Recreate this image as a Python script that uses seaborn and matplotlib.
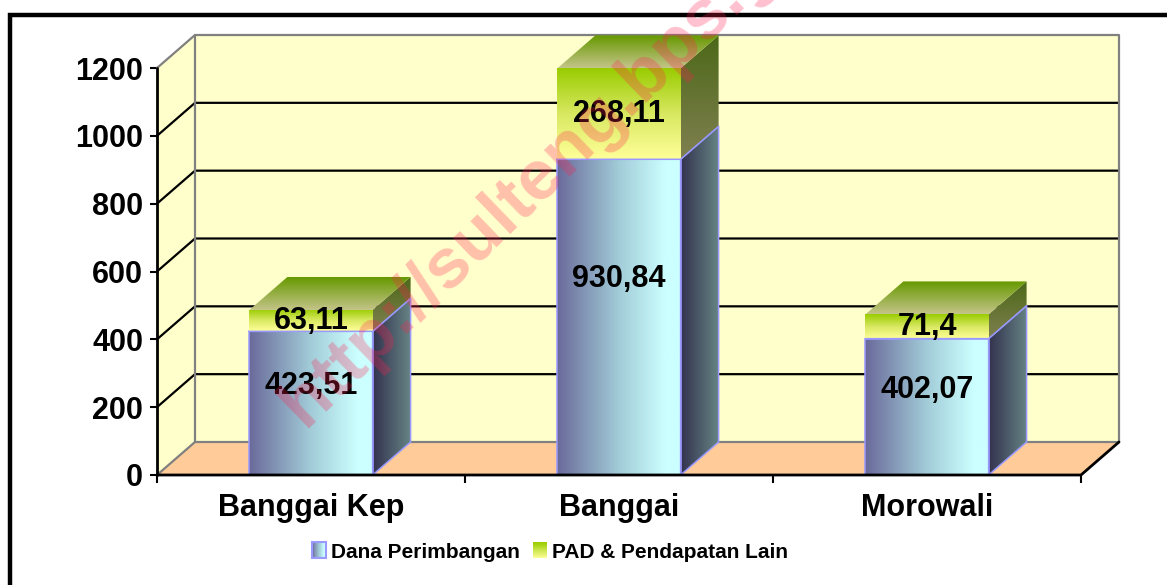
import numpy as np
import pandas as pd
import matplotlib
matplotlib.use("Agg")
import matplotlib.pyplot as plt
import seaborn as sns
from matplotlib.patches import Polygon, Rectangle
from matplotlib.colors import LinearSegmentedColormap
from matplotlib.legend_handler import HandlerBase
from matplotlib.lines import Line2D

# ---------------- data ----------------
categories = ["Banggai Kep", "Banggai", "Morowali"]
dana = [423.51, 930.84, 402.07]
pad = [63.11, 268.11, 71.4]
dana_labels = ["423,51", "930,84", "402,07"]
pad_labels = ["63,11", "268,11", "71,4"]
yticks = [0, 200, 400, 600, 800, 1000, 1200]
legend_labels = ["Dana Perimbangan", "PAD & Pendapatan Lain"]
watermark = "http://sulteng.bps.go.id"

df = pd.DataFrame({"Wilayah": categories, "Dana": dana, "PAD": pad})
df["Total"] = df["Dana"] + df["PAD"]

# ---------------- style ----------------
sns.set_theme(style="white")
plt.rcParams["font.family"] = ["Liberation Sans", "DejaVu Sans"]
plt.rcParams["font.weight"] = "bold"
plt.rcParams["text.color"] = "black"
plt.rcParams["xtick.color"] = "black"
plt.rcParams["ytick.color"] = "black"
plt.rcParams["axes.labelcolor"] = "black"

W, H, DPI = 1167, 585, 100
fig = plt.figure(figsize=(W / DPI, H / DPI), dpi=DPI)
fig.patch.set_facecolor("white")

YMAX = 1200
L_PX, R_PX, B_PX, T_PX = 157, 1081, 475, 68   # front plane
DX_PX, DY_PX = 38, 33                          # 3-D depth offset
pxc = (R_PX - L_PX) / 3.0
upx = (B_PX - T_PX) / YMAX
ddx = DX_PX / pxc
ddy = DY_PX / upx

ax = fig.add_axes([L_PX / W, (H - B_PX) / H, (3 + ddx) * pxc / W, (YMAX + ddy) * upx / H])
ax.set_facecolor("none")

WALL = "#FFFFCC"
FLOOR = "#FFCC99"
GREY = "#808080"
BAR_EDGE = "#9999FF"

x_lo, x_hi = -0.5, 2.5

# walls
ax.add_patch(Polygon([(x_lo + ddx, ddy), (x_hi + ddx, ddy), (x_hi + ddx, YMAX + ddy), (x_lo + ddx, YMAX + ddy)],
                     closed=True, facecolor=WALL, edgecolor="none", zorder=0.5))
ax.add_patch(Polygon([(x_lo, 0), (x_lo + ddx, ddy), (x_lo + ddx, YMAX + ddy), (x_lo, YMAX)],
                     closed=True, facecolor=WALL, edgecolor="none", zorder=0.5))
# floor
ax.add_patch(Polygon([(x_lo, 0), (x_hi, 0), (x_hi + ddx, ddy), (x_lo + ddx, ddy)],
                     closed=True, facecolor=FLOOR, edgecolor="none", zorder=0.6))

# gridlines
for v in yticks[1:-1]:
    ax.plot([x_lo, x_lo + ddx, x_hi + ddx], [v, v + ddy, v + ddy], color="black", lw=1.6,
            zorder=1, clip_on=False, solid_capstyle="butt")
# wall borders (grey)
ax.plot([x_lo, x_lo + ddx, x_hi + ddx, x_hi + ddx], [YMAX, YMAX + ddy, YMAX + ddy, ddy],
        color=GREY, lw=1.6, zorder=1.1, clip_on=False)
ax.plot([x_lo + ddx, x_lo + ddx], [ddy, YMAX + ddy], color=GREY, lw=1.6, zorder=1.1, clip_on=False)
ax.plot([x_lo, x_lo + ddx, x_hi + ddx], [0, ddy, ddy], color=GREY, lw=1.6, zorder=1.1, clip_on=False)
# floor front/right edges and front axis (black)
ax.plot([x_lo, x_hi, x_hi + ddx], [0, 0, ddy], color="black", lw=2, zorder=6, clip_on=False)
ax.plot([x_lo, x_lo], [0, YMAX], color="black", lw=2, zorder=6, clip_on=False)

# ---------------- bars via seaborn ----------------
sns.barplot(data=df, x="Wilayah", y="Total", ax=ax, width=0.4, color="#99CC00",
            errorbar=None, linewidth=0)
sns.barplot(data=df, x="Wilayah", y="Dana", ax=ax, width=0.4, color="#6A6A9A",
            errorbar=None, linewidth=0)
green_bars = ax.patches[3:6]
blue_bars = ax.patches[6:9]


def gradient(clip_xy, stops, vertical, z):
    clip = Polygon(clip_xy, closed=True, facecolor="none", edgecolor="none", transform=ax.transData)
    ax.add_patch(clip)
    xs = [p[0] for p in clip_xy]
    ys = [p[1] for p in clip_xy]
    cmap = LinearSegmentedColormap.from_list("g", stops)
    g = np.linspace(0, 1, 256)
    arr = g[:, None] if vertical else g[None, :]
    im = ax.imshow(arr, cmap=cmap, origin="lower", extent=[min(xs), max(xs), min(ys), max(ys)],
                   aspect="auto", interpolation="bilinear", zorder=z)
    im.set_clip_path(clip)
    return clip


BLUE_FRONT = [(0.0, "#6A6A9A"), (0.5, "#A2CCD8"), (0.88, "#CCFFFF"), (1.0, "#CCFFFF")]
BLUE_SIDE = ["#33334F", "#668484"]
GREEN_FRONT = ["#FFFF99", "#D8E860", "#99CC00"]
GREEN_SIDE = ["#808050", "#4C6818"]
GREEN_TOP = ["#C4C488", "#669900"]

for i, (gb, bb) in enumerate(zip(green_bars, blue_bars)):
    x0 = bb.get_x()
    x1 = x0 + bb.get_width()
    v = bb.get_height()
    t = gb.get_height()
    gb.set_facecolor("none")
    gb.set_edgecolor("none")
    bb.set_facecolor("none")
    # blue side
    side_b = [(x1, 0), (x1 + ddx, ddy), (x1 + ddx, v + ddy), (x1, v)]
    gradient(side_b, BLUE_SIDE, False, 2)
    ax.add_patch(Polygon(side_b, closed=True, facecolor="none", edgecolor=BAR_EDGE, lw=1.1, zorder=2.5))
    # blue front
    front_b = [(x0, 0), (x1, 0), (x1, v), (x0, v)]
    gradient(front_b, BLUE_FRONT, False, 2)
    ax.add_patch(Polygon(front_b, closed=True, facecolor="none", edgecolor=BAR_EDGE, lw=1.1, zorder=2.5))
    # green side
    side_g = [(x1, v), (x1 + ddx, v + ddy), (x1 + ddx, t + ddy), (x1, t)]
    gradient(side_g, GREEN_SIDE, True, 3)
    # green top
    top_g = [(x0, t), (x1, t), (x1 + ddx, t + ddy), (x0 + ddx, t + ddy)]
    gradient(top_g, GREEN_TOP, True, 3)
    # green front
    front_g = [(x0, v), (x1, v), (x1, t), (x0, t)]
    gradient(front_g, GREEN_FRONT, True, 3)
    ax.plot([x0, x1, x1 + ddx], [v, v, v + ddy], color=BAR_EDGE, lw=1.1, zorder=3.5)

    xc = x0 + (x1 - x0) / 2
    ax.text(xc, v * 0.62, dana_labels[i], ha="center", va="center", fontsize=22,
            fontweight="bold", color="black", zorder=7)
    ax.text(xc, v + (t - v) / 2, pad_labels[i], ha="center", va="center", fontsize=22,
            fontweight="bold", color="black", zorder=7)

# ---------------- axes ----------------
for s in ax.spines.values():
    s.set_visible(False)
ax.set_xlabel("")
ax.set_ylabel("")
ax.set_yticks(yticks)
ax.set_yticklabels([str(v) for v in yticks], fontsize=22, fontweight="bold", color="black")
ax.tick_params(axis="y", left=True, length=5, width=1.5, pad=5, direction="out", color="black",
               labelcolor="black")
ax.set_xticks(range(len(categories)))
ax.set_xticklabels(categories, fontsize=22, fontweight="bold", color="black")
ax.set_xticks([-0.5, 0.5, 1.5, 2.5], minor=True)
ax.tick_params(axis="x", which="major", length=0, pad=13, labelcolor="black")
ax.tick_params(axis="x", which="minor", bottom=True, length=6, width=1.5, direction="out", color="black")
ax.grid(False)
ax.set_xlim(x_lo, x_hi + ddx)
ax.set_ylim(0, YMAX + ddy)


# ---------------- legend ----------------
class GradHandler(HandlerBase):
    def __init__(self, stops, vertical, edge):
        super().__init__()
        self.stops = stops
        self.vertical = vertical
        self.edge = edge

    def create_artists(self, legend, orig_handle, xdescent, ydescent, width, height, fontsize, trans):
        cmap = LinearSegmentedColormap.from_list("l", self.stops)
        n = 30
        arts = []
        for k in range(n):
            c = cmap((k + 0.5) / n)
            if self.vertical:
                r = Rectangle((-xdescent, -ydescent + height * k / n), width, height / n * 1.05,
                              facecolor=c, edgecolor="none", lw=0)
            else:
                r = Rectangle((-xdescent + width * k / n, -ydescent), width / n * 1.05, height,
                              facecolor=c, edgecolor="none", lw=0)
            r.set_transform(trans)
            arts.append(r)
        if self.edge is not None:
            b = Rectangle((-xdescent, -ydescent), width, height, fill=False, edgecolor=self.edge, lw=1.5)
            b.set_transform(trans)
            arts.append(b)
        return arts


h1 = Rectangle((0, 0), 1, 1)
h2 = Rectangle((0, 0), 1, 1)
leg = fig.legend([h1, h2], legend_labels,
                 handler_map={h1: GradHandler(BLUE_FRONT, False, BAR_EDGE),
                              h2: GradHandler(["#FFFF99", "#99CC00"], True, None)},
                 loc="center", bbox_to_anchor=(550 / W, 1 - 552 / H), ncol=2, frameon=False,
                 prop={"size": 15, "weight": "bold"}, handlelength=0.67, handleheight=0.8,
                 handletextpad=0.25, columnspacing=0.6, borderpad=0, borderaxespad=0)
for txt in leg.get_texts():
    txt.set_color("black")

# outer frame
fig.add_artist(Line2D([10 / W, 10 / W, 1.0], [0.0, 1 - 15 / H, 1 - 15 / H], transform=fig.transFigure,
                      color="black", lw=3.2, solid_joinstyle="miter"))

# watermark
fig.text(305 / W, 1 - 428 / H, watermark, rotation=44, rotation_mode="anchor", ha="left",
         va="baseline", fontsize=51, fontweight="bold", color="#FF2050", alpha=0.28, zorder=10)

fig.savefig("out.png", dpi=DPI)
